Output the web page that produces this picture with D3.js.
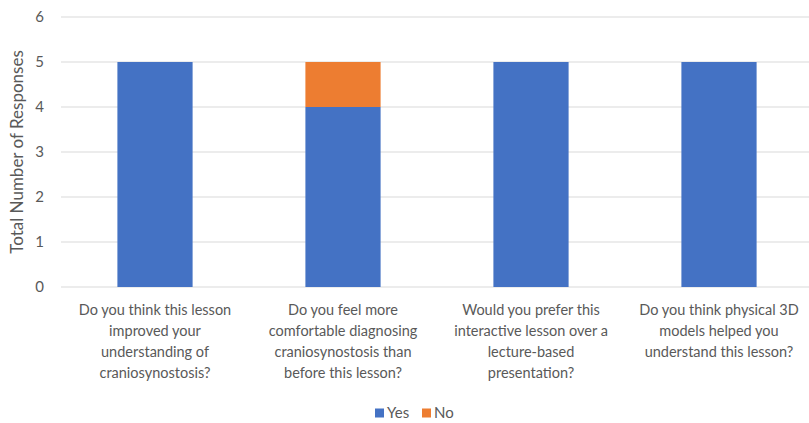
<!DOCTYPE html>
<html>
<head>
<meta charset="utf-8">
<script src="https://cdn.jsdelivr.net/npm/d3@7"></script>
<style>
  body { margin: 0; background: #fff; }
  text { font-family: Lato, "Open Sans", sans-serif; fill: #595959; }
</style>
</head>
<body>
<svg width="809" height="423"></svg>
<script>
var questions = [
  ["Do you think this lesson", "improved your", "understanding of", "craniosynostosis?"],
  ["Do you feel more", "comfortable diagnosing", "craniosynostosis than", "before this lesson?"],
  ["Would you prefer this", "interactive lesson over a", "lecture-based", "presentation?"],
  ["Do you think physical 3D", "models helped you", "understand this lesson?"]
];
var yes = [5, 4, 5, 5];
var no = [0, 1, 0, 0];
var series = ["Yes", "No"];
var yTicks = [0, 1, 2, 3, 4, 5, 6];

function main() {
  var svg = d3.select("svg"),
      width = +svg.attr("width");

  var color = d3.scaleOrdinal(series, ["#4472C4", "#ED7D31"]);

  var x = d3.scaleBand()
            .domain(d3.range(questions.length))
            .range([61, 813])
            .paddingInner(0.6)
            .paddingOuter(0.3);
  var y = d3.scaleLinear().domain([0, 6]).range([287, 17]);

  // gridlines
  svg.append("g").selectAll("line")
     .data(yTicks).enter().append("line")
     .attr("x1", 61).attr("x2", width)
     .attr("y1", function(d) { return y(d); })
     .attr("y2", function(d) { return y(d); })
     .attr("stroke", "#d9d9d9")
     .attr("stroke-width", 1);

  // y tick labels
  svg.append("g").selectAll("text")
     .data(yTicks).enter().append("text")
     .attr("x", 44)
     .attr("y", function(d) { return y(d); })
     .attr("dy", "0.35em")
     .attr("text-anchor", "end")
     .style("font-size", "15px")
     .text(function(d) { return d; });

  svg.append("text")
     .attr("transform", "translate(23,152) rotate(-90)")
     .attr("text-anchor", "middle")
     .style("font-size", "17px")
     .text("Total Number of Responses");

  var rows = questions.map(function(q, i) { return { i: i, Yes: yes[i], No: no[i] }; });
  var stack = d3.stack().keys(series)(rows);

  svg.append("g").selectAll("g")
     .data(stack).enter().append("g")
     .attr("fill", function(d) { return color(d.key); })
     .selectAll("rect")
     .data(function(d) { return d; }).enter().append("rect")
     .attr("x", function(d) { return x(d.data.i); })
     .attr("width", x.bandwidth())
     .attr("y", function(d) { return y(d[1]); })
     .attr("height", function(d) { return y(d[0]) - y(d[1]); });

  // category labels
  var lab = svg.append("g").selectAll("text")
     .data(questions).enter().append("text")
     .attr("text-anchor", "middle")
     .style("font-size", "14.5px")
     .attr("transform", function(d, i) {
        return "translate(" + (x(i) + x.bandwidth() / 2) + ",315)";
     });
  lab.selectAll("tspan")
     .data(function(d) { return d; }).enter().append("tspan")
     .attr("x", 0)
     .attr("y", function(d, j) { return j * 21; })
     .text(function(d) { return d; });

  // legend
  var leg = svg.append("g").attr("transform", "translate(375,413)");
  var item = leg.selectAll("g").data(series).enter().append("g")
     .attr("transform", function(d, i) { return "translate(" + (i * 47) + ",0)"; });
  item.append("rect")
     .attr("y", -4.5).attr("width", 9).attr("height", 9)
     .attr("fill", function(d) { return color(d); });
  item.append("text")
     .attr("x", 12).attr("dy", "0.35em")
     .style("font-size", "15px")
     .text(function(d) { return d; });
}
main();
</script>
</body>
</html>
